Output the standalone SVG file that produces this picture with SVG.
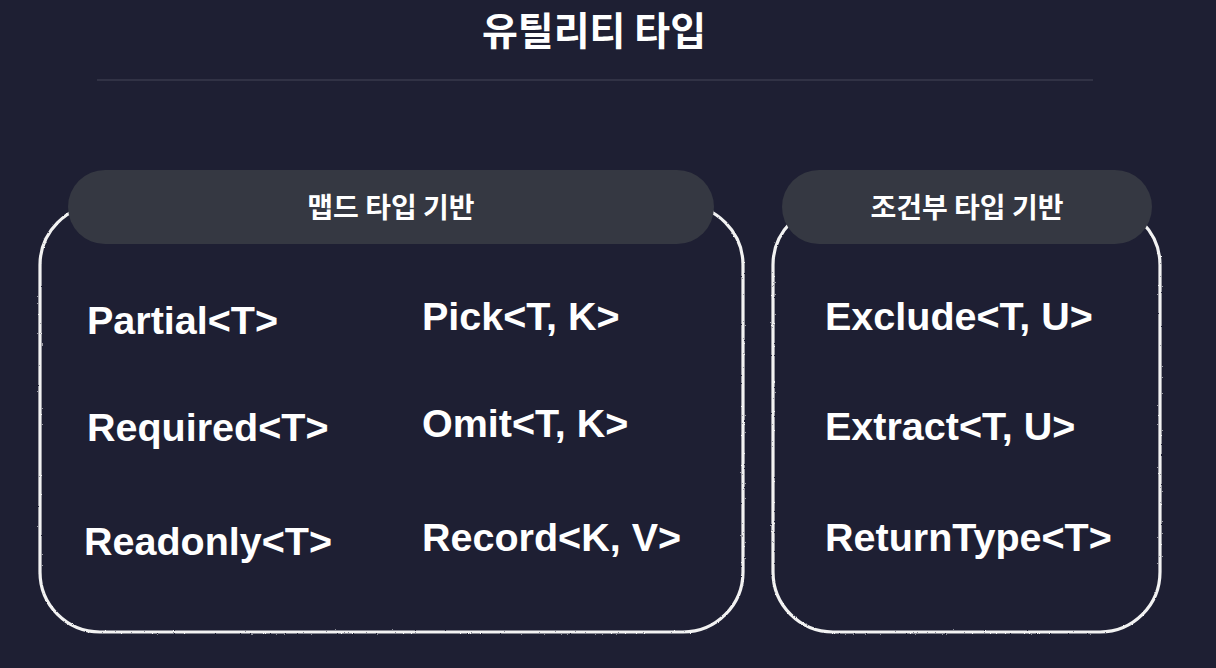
<svg xmlns="http://www.w3.org/2000/svg" width="1216" height="668" viewBox="0 0 1216 668">
<defs>
<filter id="chalk" x="-5%" y="-5%" width="110%" height="110%">
<feTurbulence type="fractalNoise" baseFrequency="0.9" numOctaves="2" seed="3" result="n"/>
<feDisplacementMap in="SourceGraphic" in2="n" scale="2" xChannelSelector="R" yChannelSelector="G"/>
</filter>
</defs>
<style>
.bg{fill:#1e1f33}
.box{fill:none;stroke:#f2f2f2;stroke-width:3.2}
.pill{fill:#353842}
.title{font-family:"Noto Sans CJK KR","Noto Sans",sans-serif;font-weight:700;font-size:39px;fill:#ffffff}
.plabel{font-family:"Noto Sans CJK KR","Noto Sans",sans-serif;font-weight:700;font-size:28px;fill:#ffffff}
.item{font-family:"Liberation Sans",Arial,sans-serif;font-weight:700;font-size:39.5px;fill:#ffffff}
</style>
<rect class="bg" x="0" y="0" width="1216" height="668"/>
<g id="title">
<text class="title" x="594" y="45" text-anchor="middle">유틸리티 타입</text>
<line x1="97" y1="80" x2="1093" y2="80" stroke="#393a4d" stroke-width="1.5"/>
</g>
<g id="mapped">
<rect class="box" x="40" y="205" width="703" height="427" rx="60" filter="url(#chalk)"/>
<rect class="pill" x="68" y="170" width="646" height="74" rx="37"/>
<text class="plabel" x="391" y="218" text-anchor="middle">맵드 타입 기반</text>
<text class="item" x="87" y="334">Partial&lt;T&gt;</text>
<text class="item" x="87" y="441">Required&lt;T&gt;</text>
<text class="item" x="84" y="555">Readonly&lt;T&gt;</text>
<text class="item" x="422" y="330">Pick&lt;T, K&gt;</text>
<text class="item" x="422" y="437">Omit&lt;T, K&gt;</text>
<text class="item" x="422" y="551">Record&lt;K, V&gt;</text>
</g>
<g id="conditional">
<rect class="box" x="773" y="205" width="387" height="427" rx="60" filter="url(#chalk)"/>
<rect class="pill" x="782" y="170" width="370" height="74" rx="37"/>
<text class="plabel" x="967" y="218" text-anchor="middle">조건부 타입 기반</text>
<text class="item" x="825" y="330">Exclude&lt;T, U&gt;</text>
<text class="item" x="825" y="440">Extract&lt;T, U&gt;</text>
<text class="item" x="825" y="551">ReturnType&lt;T&gt;</text>
</g>
<g id="connectors"></g>
</svg>
